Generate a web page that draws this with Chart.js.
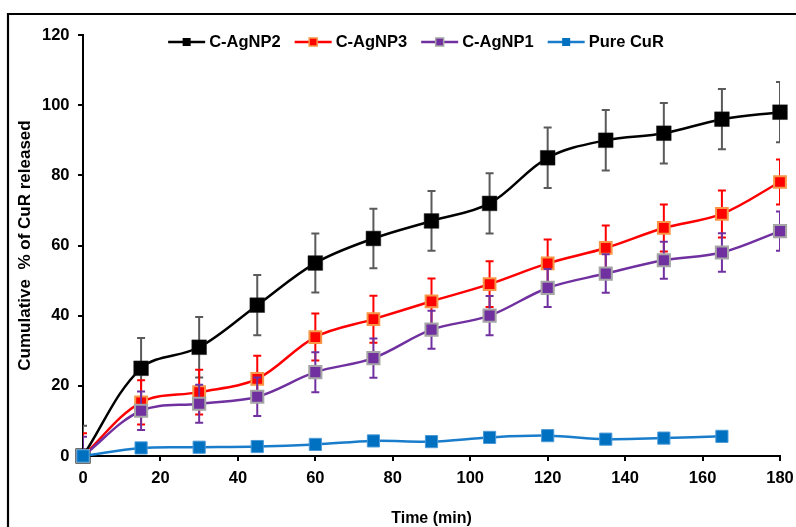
<!DOCTYPE html>
<html><head><meta charset="utf-8">
<script src="https://cdn.jsdelivr.net/npm/chart.js@4.4.1/dist/chart.umd.min.js"></script>
<style>html,body{margin:0;padding:0;background:#fff;}canvas{display:block;}</style>
</head><body>
<canvas id="c" width="796" height="527"></canvas>
<script>
// ---------------- data ----------------
const times = [0, 15, 30, 45, 60, 75, 90, 105, 120, 135, 150, 165, 180];
const seriesNames = ['C-AgNP2', 'C-AgNP3', 'C-AgNP1', 'Pure CuR'];
const agnp2 = [0, 25, 31, 43, 55, 62, 67, 72, 85, 90, 92, 96, 98];
const agnp2Err = [8.6, 8.6, 8.6, 8.6, 8.4, 8.5, 8.5, 8.6, 8.6, 8.6, 8.6, 8.6, 8.6];
const agnp3 = [0, 15.3, 18.2, 22, 33.9, 39, 44.1, 49, 54.9, 59.3, 65, 69, 78.1];
const agnp3Err = [6.5, 6.3, 6.4, 6.6, 6.7, 6.7, 6.5, 6.5, 6.8, 6.4, 6.7, 6.7, 6.4];
const agnp1 = [0, 12.9, 14.9, 16.9, 23.9, 27.9, 36, 40, 47.9, 52, 55.8, 58, 64.1];
const agnp1Err = [5.5, 5.5, 5.4, 5.5, 5.7, 5.6, 5.4, 5.6, 5.4, 5.5, 5.3, 5.5, 5.6];
const pureCuR = [0, 2.3, 2.5, 2.7, 3.3, 4.3, 4.1, 5.3, 5.8, 4.8, 5.1, 5.6];
const xTickLabels = [0, 20, 40, 60, 80, 100, 120, 140, 160, 180];
const yTickLabels = [0, 20, 40, 60, 80, 100, 120];

// ---------------- styles ----------------
const FONT = "'Liberation Sans', Arial, sans-serif";
const styles = [
  {line: '#000000', fill: '#000000', border: '#222222', bw: 0.5, r: 10.4, err: '#5a5a5a', legSide: 8, legBw: 0},
  {line: '#FF0000', fill: '#FF0000', border: '#F79646', bw: 2, r: 8.3, err: '#FF0000', legSide: 8, legBw: 1.5},
  {line: '#7030A0', fill: '#7030A0', border: '#A6A6A6', bw: 2, r: 8.6, err: '#7030A0', legSide: 8, legBw: 1.5},
  {line: '#1A7DCB', fill: '#0070C0', border: '#4A9AD8', bw: 1, r: 8.6, err: '#0070C0', legSide: 8, legBw: 0}
];
const values = [agnp2, agnp3, agnp1, pureCuR];
const errors = [agnp2Err, agnp3Err, agnp1Err, null];

function toPoints(vals) { return vals.map((v, i) => ({x: times[i], y: v})); }

const datasets = seriesNames.map((name, k) => ({
  label: name,
  data: toPoints(values[k]),
  errors: errors[k],
  errColor: styles[k].err,
  borderColor: styles[k].line,
  backgroundColor: styles[k].fill,
  borderWidth: 2.5,
  tension: 0.35,
  pointStyle: 'rect',
  pointRadius: styles[k].r,
  pointHoverRadius: styles[k].r,
  pointBackgroundColor: styles[k].fill,
  pointBorderColor: styles[k].border,
  pointBorderWidth: styles[k].bw,
  order: 4 - k,
  clip: false
}));

const errorBars = {
  id: 'errorBars',
  beforeDatasetDraw(chart, args) {
    const ds = chart.data.datasets[args.index];
    if (!ds.errors) return;
    const {ctx, chartArea: a} = chart;
    const xs = chart.scales.x, ys = chart.scales.y;
    ctx.save();
    ctx.beginPath();
    ctx.rect(a.left, a.top - 40, a.right - a.left, a.bottom - a.top + 40);
    ctx.clip();
    ctx.strokeStyle = ds.errColor;
    ctx.lineWidth = 2;
    const cap = 4;
    ds.data.forEach((p, i) => {
      const e = ds.errors[i];
      if (e == null) return;
      const x = xs.getPixelForValue(p.x);
      const y1 = ys.getPixelForValue(p.y + e);
      const y2 = ys.getPixelForValue(p.y - e);
      ctx.beginPath();
      ctx.moveTo(x, y1); ctx.lineTo(x, y2);
      ctx.moveTo(x - cap, y1); ctx.lineTo(x + cap, y1);
      ctx.moveTo(x - cap, y2); ctx.lineTo(x + cap, y2);
      ctx.stroke();
    });
    ctx.restore();
  }
};

// legend drawn from dataset labels/colours: line segment + square marker + text
const legendPlugin = {
  id: 'lineLegend',
  afterDraw(chart) {
    const ctx = chart.ctx;
    const lineLen = 37, gapText = 4, gapItem = 14, cy = 42, centerX = 416;
    ctx.save();
    ctx.font = 'bold 16.5px ' + FONT;
    ctx.textBaseline = 'middle';
    ctx.textAlign = 'left';
    const items = chart.data.datasets.map((d, i) => ({label: d.label, s: styles[i], w: ctx.measureText(d.label).width}));
    const total = items.reduce((t, it) => t + lineLen + gapText + it.w, 0) + gapItem * (items.length - 1);
    let x = centerX - total / 2;
    items.forEach(it => {
      const s = it.s;
      ctx.strokeStyle = s.line; ctx.lineWidth = 2.5;
      ctx.beginPath(); ctx.moveTo(x, cy); ctx.lineTo(x + lineLen, cy); ctx.stroke();
      const mx = x + lineLen / 2, side = s.legSide;
      ctx.fillStyle = s.fill;
      ctx.fillRect(mx - side / 2, cy - side / 2, side, side);
      if (s.legBw) {
        ctx.strokeStyle = s.border; ctx.lineWidth = s.legBw;
        ctx.strokeRect(mx - side / 2, cy - side / 2, side, side);
      }
      ctx.fillStyle = '#000';
      ctx.fillText(it.label, x + lineLen + gapText, cy + 0.5);
      x += lineLen + gapText + it.w + gapItem;
    });
    ctx.restore();
  }
};

const frame = {
  id: 'frame',
  afterDraw(chart) {
    const ctx = chart.ctx;
    ctx.save();
    ctx.strokeStyle = '#000';
    ctx.lineWidth = 2.2;
    ctx.beginPath();
    ctx.moveTo(8, 530); ctx.lineTo(8, 14); ctx.lineTo(800, 14);
    ctx.stroke();
    ctx.restore();
  }
};

new Chart(document.getElementById('c'), {
  type: 'line',
  data: {datasets},
  plugins: [errorBars, legendPlugin, frame],
  options: {
    responsive: false,
    animation: false,
    events: [],
    layout: {padding: {left: 0, top: 35, right: 16, bottom: 0}},
    plugins: {
      tooltip: {enabled: false},
      legend: {display: false}
    },
    scales: {
      x: {
        type: 'linear',
        min: 0, max: 180,
        afterBuildTicks(s) { s.ticks = xTickLabels.map(v => ({value: v})); },
        afterFit(s) { s.height = 71; s.paddingLeft = 0; s.paddingRight = 0; },
        grid: {drawOnChartArea: false, drawTicks: true, tickLength: 5, color: '#000', lineWidth: 2},
        border: {display: true, color: '#000', width: 2},
        ticks: {color: '#000', padding: 7.5, maxRotation: 0, font: {family: FONT, size: 16.5, weight: 'bold'}},
        title: {display: true, text: 'Time (min)', color: '#000', padding: {top: 0, bottom: -1.1},
                font: {family: FONT, size: 16, weight: 'bold'}}
      },
      y: {
        type: 'linear',
        min: 0, max: 120,
        afterBuildTicks(s) { s.ticks = yTickLabels.map(v => ({value: v})); },
        afterFit(s) { s.width = 83; s.paddingTop = 0; s.paddingBottom = 0; },
        grid: {drawOnChartArea: false, drawTicks: true, tickLength: 5, color: '#000', lineWidth: 2},
        border: {display: true, color: '#000', width: 2},
        ticks: {color: '#000', padding: 8.5, font: {family: FONT, size: 16.5, weight: 'bold'}},
        title: {display: true, text: 'Cumulative  % of CuR released', color: '#000',
                padding: {top: 15.3, bottom: 0},
                font: {family: FONT, size: 17, weight: 'bold'}}
      }
    }
  }
});
</script>
</body></html>
